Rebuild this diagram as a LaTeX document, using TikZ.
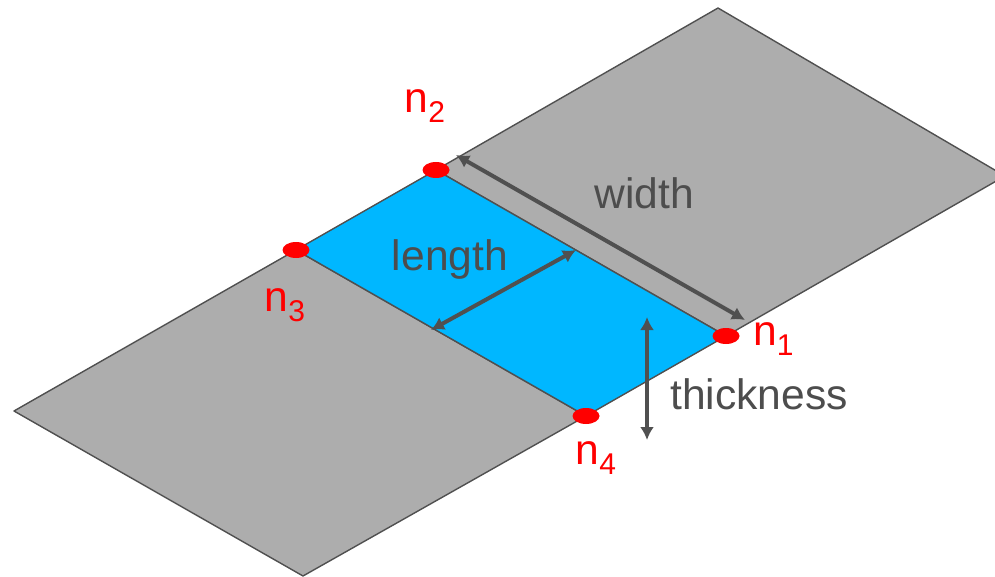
\documentclass[tikz,border=0pt]{standalone}
\usepackage{fontspec}
\setmainfont{Liberation Sans}
\usetikzlibrary{arrows.meta,shapes.geometric}
\definecolor{sheet}{HTML}{ADADAD}
\definecolor{mid}{HTML}{00B7FF}
\definecolor{edgec}{HTML}{505050}
\definecolor{dim}{HTML}{505050}
\definecolor{lab}{HTML}{4D4D4D}
\tikzset{
  panel/.style={draw=edgec,line width=1.4pt,line join=round},
  nodept/.style={ellipse,fill=red,inner sep=0pt,minimum width=27pt,minimum height=16pt},
  dimline/.style={draw=dim,line width=4pt,{Latex[length=13pt,width=14pt]}-{Latex[length=13pt,width=14pt]}},
  lbl/.style={text=lab,font=\fontsize{42.6}{46}\selectfont,inner sep=0pt,anchor=base},
  redlbl/.style={text=red,font=\fontsize{42.6}{46}\selectfont,inner sep=0pt,anchor=base west}
}
\newcommand{\nlabel}[3]{\node[redlbl] at (#1,#2) {n\raisebox{-10pt}{\fontsize{30}{32}\selectfont #3}};}
\begin{document}
\begin{tikzpicture}[x=1pt,y=-1pt]
\useasboundingbox (0,0) rectangle (995,577);
\clip (0,0) rectangle (995,577);
\coordinate (N1) at (726,336);
\coordinate (N2) at (436,170);
\coordinate (N3) at (296,250);
\coordinate (N4) at (586,416);
\coordinate (TR) at (718,8);
\coordinate (RR) at (1005,176);
\coordinate (BL) at (14,411);
\coordinate (BB) at (303,576);
\path[panel,fill=sheet] (N2) -- (TR) -- (RR) -- (N1) -- cycle;
\path[panel,fill=sheet] (N3) -- (N4) -- (BB) -- (BL) -- cycle;
\path[panel,fill=mid] (N1) -- (N2) -- (N3) -- (N4) -- cycle;
\coordinate (wa) at (456,155);
\coordinate (wb) at (745,320);
\coordinate (la) at (431,330);
\coordinate (lb) at (576,250);
\coordinate (ta) at (647,317);
\coordinate (tb) at (647,440);
\draw[dimline] (wa) -- (wb);
\draw[dimline] (la) -- (lb);
\draw[dimline] (ta) -- (tb);
\node[nodept] (n1) at (N1) {};
\node[nodept] (n2) at (N2) {};
\node[nodept] (n3) at (N3) {};
\node[nodept] (n4) at (N4) {};
\node[lbl] (lw) at (644.5,209) {width};
\node[lbl] (ll) at (450,270) {length};
\node[lbl] (lt) at (759,409) {thickness};
\nlabel{404.5}{113}{2}
\nlabel{264.5}{311}{3}
\nlabel{753}{345}{1}
\nlabel{575.5}{464}{4}
\end{tikzpicture}
\end{document}
